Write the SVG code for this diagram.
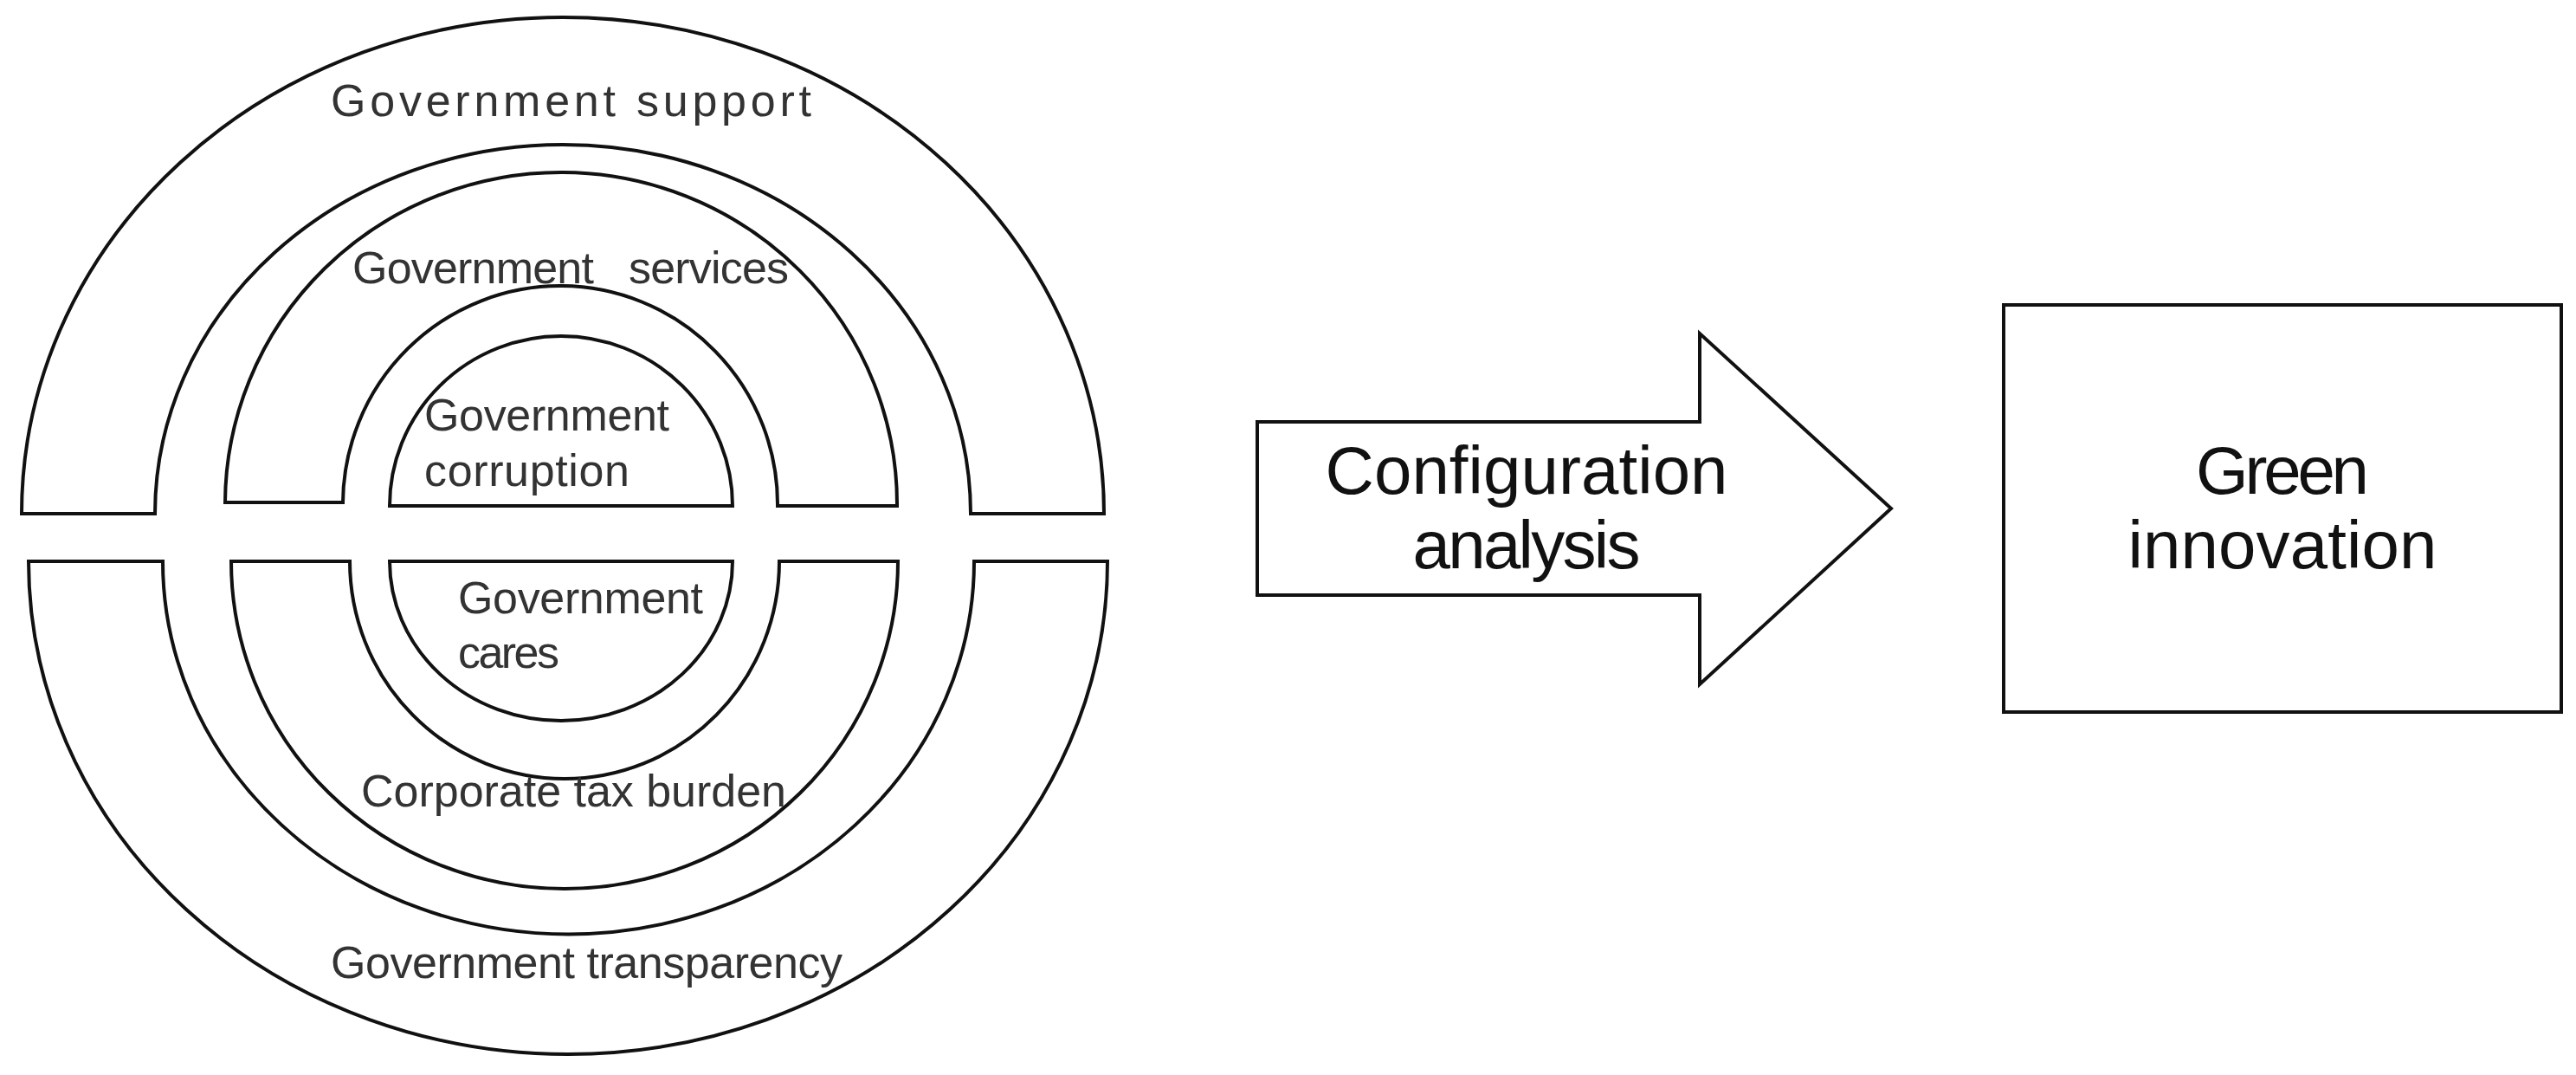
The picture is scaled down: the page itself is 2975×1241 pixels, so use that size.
<svg xmlns="http://www.w3.org/2000/svg" width="2975" height="1241" viewBox="0 0 2975 1241">
<style>
.s{fill:#fff;stroke:#111;stroke-width:4;stroke-linejoin:miter}
.t{font-family:"Liberation Sans",Arial,sans-serif;fill:#333;font-size:52px}
.b{font-family:"Liberation Sans",Arial,sans-serif;fill:#111;font-size:78px;text-anchor:middle}
</style>
<rect width="2975" height="1241" fill="#fff"/>
<g id="support"><path class="s" d="M25 593 A625 573 0 0 1 1275 593 L1121 593 A471 426 0 0 0 179 593 Z"/>
<text class="t" x="382" y="134" textLength="555" font-size="55">Government support</text></g>
<g id="services"><path class="s" d="M260 580 A388 383 0 0 1 1036 584 L898 584 A251 252 0 0 0 396 580 Z"/>
<text class="t" x="407" y="327" textLength="504" xml:space="preserve">Government   services</text></g>
<g id="corruption"><path class="s" d="M450 584 A198 196 0 0 1 846 584 Z"/>
<text class="t" x="490" y="497" textLength="283">Government</text>
<text class="t" x="490" y="561" textLength="237">corruption</text></g>
<g id="transparency"><path class="s" d="M33 648 A623 569 0 0 0 1279 648 L1125 648 A468 430 0 0 1 188 648 Z"/>
<text class="t" x="382" y="1129" textLength="591" font-size="55">Government transparency</text></g>
<g id="tax"><path class="s" d="M267 648 A385 378 0 0 0 1037 648 L900 648 A248 251 0 0 1 404 648 Z"/>
<text class="t" x="417" y="931" textLength="491">Corporate tax burden</text></g>
<g id="cares"><path class="s" d="M450 648 A198 184 0 0 0 846 648 Z"/>
<text class="t" x="529" y="708" textLength="283">Government</text>
<text class="t" x="529" y="771" textLength="117">cares</text></g>
<g id="connectors"><g id="arrow"><path class="s" d="M1452 487 L1963 487 L1963 385 L2184 587 L1963 790 L1963 687 L1452 687 Z"/>
<text class="b" x="1763" y="570" textLength="465">Configuration</text>
<text class="b" x="1763" y="656" textLength="263">analysis</text></g></g>
<g id="green"><rect class="s" x="2314" y="352" width="644" height="470"/>
<text class="b" x="2636" y="570" textLength="200">Green</text>
<text class="b" x="2636" y="656" textLength="357">innovation</text></g>
</svg>
